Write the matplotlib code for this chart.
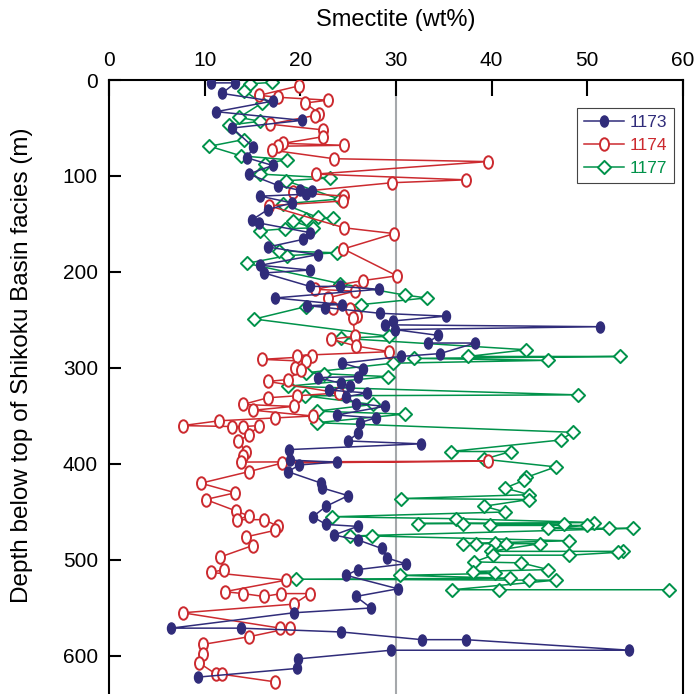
import matplotlib
matplotlib.use("Agg")
import matplotlib.pyplot as plt
from matplotlib.path import Path
from matplotlib.transforms import Affine2D

plt.rcParams['font.family'] = ['Liberation Sans', 'DejaVu Sans']

# ---- Site 1173 (smectite wt% vs depth below top of Shikoku Basin facies, m)
depth_1173 = [3, 3, 14, 22, 33, 42, 50, 70, 81, 89,
              98, 110, 115, 116, 119, 121, 128, 135, 146, 149,
              159, 166, 174, 182, 193, 198, 201, 215, 215, 218,
              227, 234, 235, 237, 243, 246, 251, 255, 257, 260,
              266, 274, 274, 285, 288, 295, 301, 309, 310, 316,
              319, 323, 326, 330, 337, 340, 349, 352, 357, 368,
              376, 379, 385, 396, 398, 401, 408, 420, 425, 433,
              444, 455, 463, 465, 474, 479, 488, 498, 504, 510,
              516, 530, 538, 550, 555, 571, 571, 575, 583, 583,
              594, 594, 603, 613, 622]
smectite_1173 = [10.7, 13.2, 11.8, 17.1, 11.2, 20.2, 12.9, 15.1, 14.4, 17.1,
                 14.6, 17.7, 20.0, 21.2, 20.6, 15.8, 19.1, 16.6, 14.9, 15.7,
                 21.0, 20.3, 16.6, 21.8, 15.8, 21.0, 16.2, 21.0, 24.1, 28.2,
                 17.4, 24.4, 20.7, 22.6, 28.3, 35.2, 29.7, 28.8, 51.3, 29.9,
                 34.4, 33.3, 38.3, 34.6, 30.5, 24.4, 26.5, 26.0, 21.8, 24.3,
                 25.2, 23.0, 27.0, 24.8, 25.8, 28.8, 23.8, 27.9, 26.2, 26.0,
                 25.0, 32.6, 18.8, 18.9, 23.8, 19.9, 18.7, 22.2, 22.3, 25.0,
                 22.7, 21.3, 22.7, 26.0, 23.5, 26.0, 28.5, 29.1, 31.0, 26.0,
                 24.8, 30.2, 25.8, 27.4, 19.3, 6.5, 13.8, 24.3, 32.7, 37.3,
                 54.4, 29.5, 19.8, 19.6, 9.3]

# ---- Site 1174
depth_1174 = [6, 16, 18, 21, 24, 35, 37, 46, 52, 59,
              66, 68, 69, 73, 82, 85, 98, 104, 107, 117,
              121, 126, 131, 154, 160, 176, 204, 209, 218, 220,
              227, 237, 239, 246, 248, 267, 270, 277, 283, 287,
              288, 291, 293, 300, 302, 312, 314, 326, 329, 331,
              338, 340, 344, 350, 352, 355, 360, 361, 361, 360,
              370, 376, 387, 392, 398, 397, 399, 408, 420, 430,
              437, 449, 454, 458, 458, 465, 469, 476, 485, 497,
              510, 513, 521, 533, 535, 538, 535, 535, 546, 555,
              571, 571, 580, 588, 598, 607, 619, 619, 627]
smectite_1174 = [19.9, 15.7, 17.7, 22.9, 20.5, 22.0, 21.5, 16.8, 22.4, 22.4,
                 18.2, 24.6, 17.7, 17.0, 23.5, 39.6, 21.6, 37.3, 29.6, 19.2,
                 24.6, 24.5, 16.7, 24.6, 29.8, 24.5, 30.1, 26.5, 21.5, 25.7,
                 22.9, 23.4, 25.2, 25.9, 25.5, 25.7, 23.2, 25.8, 29.3, 19.6,
                 21.2, 16.0, 20.6, 19.4, 20.1, 18.7, 16.6, 24.0, 19.6, 16.6,
                 14.0, 19.3, 15.1, 21.3, 17.4, 11.5, 7.7, 12.9, 14.0, 15.7,
                 14.6, 13.5, 14.3, 14.0, 13.8, 39.6, 18.1, 14.6, 9.6, 13.2,
                 10.1, 13.3, 14.6, 13.4, 16.2, 17.7, 17.4, 14.3, 15.0, 11.6,
                 12.0, 10.7, 18.5, 12.1, 14.0, 16.2, 18.0, 21.0, 19.3, 7.7,
                 17.9, 18.9, 14.6, 9.8, 9.8, 9.4, 11.2, 11.8, 17.4]

# ---- Site 1177
depth_1177 = [2.5, 4, 11, 24, 39, 43, 47, 62, 69, 79,
              83, 87, 98, 102, 105, 124, 129, 143, 144, 145,
              147, 154, 155, 157, 178, 180, 183, 191, 212, 224,
              227, 234, 236, 249, 267, 269, 281, 288, 288, 290,
              292, 295, 305, 306, 309, 319, 328, 329, 338, 345,
              348, 357, 367, 375, 387, 387, 395, 403, 414, 417,
              425, 432, 436, 437, 444, 450, 455, 457, 461, 462,
              462, 463, 464, 464, 467, 467, 467, 475, 475, 480,
              482, 483, 483, 483, 483, 491, 491, 492, 495, 495,
              502, 503, 510, 512, 514, 516, 519, 520, 521, 521,
              531, 531, 531]
smectite_1177 = [17.0, 14.7, 14.1, 16.0, 13.6, 15.8, 12.5, 14.1, 10.5, 13.8,
                 18.6, 16.3, 15.8, 23.1, 18.5, 24.1, 18.2, 21.8, 23.4, 20.6,
                 19.2, 21.3, 18.4, 15.8, 17.8, 23.8, 18.6, 14.4, 24.1, 30.9,
                 33.2, 26.3, 20.6, 15.2, 29.3, 24.3, 43.6, 37.5, 53.4, 31.9,
                 45.9, 29.7, 20.6, 22.5, 29.2, 18.7, 49.0, 20.5, 27.6, 21.7,
                 30.9, 21.7, 48.5, 47.2, 35.7, 42.0, 39.2, 46.7, 43.6, 43.4,
                 41.4, 43.9, 30.5, 43.9, 39.2, 41.4, 23.3, 36.3, 50.7, 32.3,
                 37.0, 47.6, 39.8, 50.0, 45.9, 52.3, 54.8, 25.2, 27.5, 48.1,
                 40.3, 37.0, 38.4, 41.5, 45.0, 39.9, 53.7, 53.2, 48.1, 40.1,
                 38.2, 43.1, 45.9, 38.0, 40.3, 30.4, 41.9, 19.5, 43.9, 46.7,
                 35.9, 40.8, 58.5]

x_ticks = [0, 10, 20, 30, 40, 50, 60]
y_ticks = [0, 100, 200, 300, 400, 500, 600]
reference_smectite = 30

NAVY = '#302C7A'
RED = '#CC2A2F'
GREEN = '#00924A'
GRAY = '#A5A8AB'

# tall ellipse and square diamond markers
ellipse = Path.unit_circle().transformed(Affine2D().scale(0.72, 1.0))
diamond = Path([(0, 1), (1, 0), (0, -1), (-1, 0), (0, 1)],
               [Path.MOVETO, Path.LINETO, Path.LINETO, Path.LINETO, Path.CLOSEPOLY])

fig = plt.figure(figsize=(6.98, 6.94), dpi=100)
ax = fig.add_axes([109 / 698, 0.0, 574 / 698, 1 - 80 / 694])

ax.axvline(reference_smectite, color=GRAY, lw=1.5, zorder=1)

l77, = ax.plot(smectite_1177, depth_1177, color=GREEN, lw=1.1, marker=diamond,
               ms=9.5, mfc='white', mec=GREEN, mew=1.4, zorder=2, label='1177')
l74, = ax.plot(smectite_1174, depth_1174, color=RED, lw=1.1, marker=ellipse,
               ms=9, mfc='white', mec=RED, mew=1.4, zorder=3, label='1174')
l73, = ax.plot(smectite_1173, depth_1173, color=NAVY, lw=1.1, marker=ellipse,
               ms=8, mfc=NAVY, mec=NAVY, mew=1.0, zorder=4, label='1173')

ax.set_xlim(0, 60)
ax.set_ylim(639.6, 0)
ax.set_xticks(x_ticks)
ax.set_yticks(y_ticks)
ax.xaxis.tick_top()
ax.tick_params(axis='x', direction='in', length=11.5, width=1.5, pad=7,
               labelsize=15, top=True, bottom=False)
ax.tick_params(axis='y', direction='in', length=8.6, width=1.5, pad=8,
               labelsize=15, left=True, right=False)
for side in ['top', 'left', 'right']:
    ax.spines[side].set_linewidth(1.5)
    ax.spines[side].set_color('black')
ax.spines['bottom'].set_visible(False)

leg = ax.legend(handles=[l73, l74, l77], labels=['1173', '1174', '1177'],
                loc='upper left', bbox_to_anchor=(577 / 698, 1 - 108 / 694),
                bbox_transform=fig.transFigure, fontsize=12.5, numpoints=1,
                handlelength=2.3, handletextpad=0.35, labelspacing=0.45,
                borderpad=0.4, borderaxespad=0, fancybox=False,
                framealpha=1, edgecolor='#444444', labelcolor='linecolor')
leg.get_frame().set_linewidth(0.8)

fig.text(396 / 698, 1 - 20 / 694, 'Smectite (wt%)', ha='center', va='center',
         fontsize=17)
fig.text(22 / 698, 1 - 365 / 694, 'Depth below top of Shikoku Basin facies (m)',
         rotation=90, ha='center', va='center', fontsize=17.5)

fig.savefig('out.png', dpi=100)
